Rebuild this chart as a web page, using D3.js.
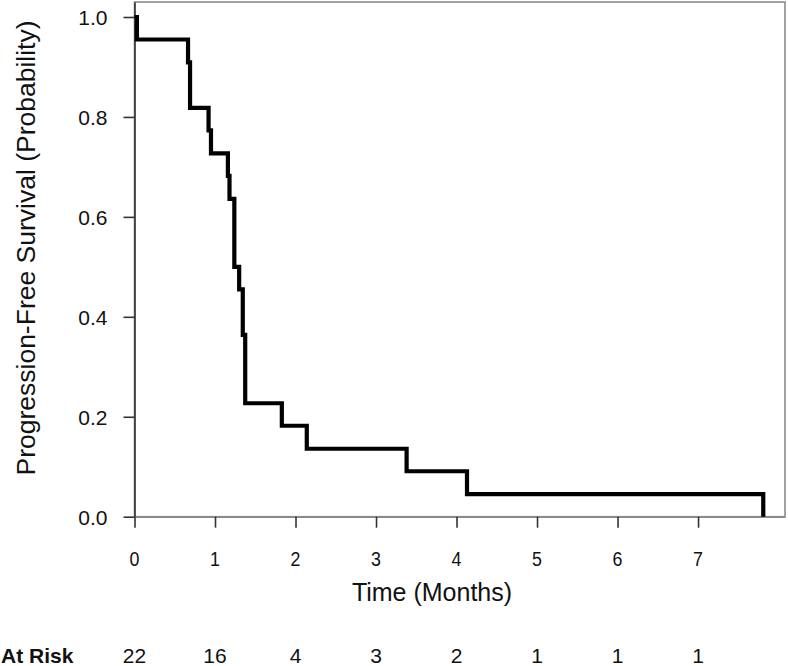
<!DOCTYPE html>
<html>
<head>
<meta charset="utf-8">
<script src="https://cdn.jsdelivr.net/npm/d3@7"></script>
<style>
  html, body { margin: 0; padding: 0; background: #fff; }
  svg { display: block; font-family: "Liberation Sans", Arial, sans-serif; }
</style>
</head>
<body>
<svg id="chart" width="788" height="666"></svg>
<script>
// Kaplan-Meier step data (event times in months, survival after each step)
const eventTimes = [0, 0.03, 0.665, 0.69, 0.92, 0.95, 1.16, 1.18, 1.24, 1.30, 1.345, 1.375, 1.83, 2.14, 3.38, 4.13, 7.81];
const survival   = [1.0, 0.955, 0.909, 0.818, 0.773, 0.727, 0.682, 0.636, 0.5, 0.455, 0.364, 0.227, 0.182, 0.136, 0.091, 0.045, 0.0];
const xTicks = [0, 1, 2, 3, 4, 5, 6, 7];
const yTicks = [0.0, 0.2, 0.4, 0.6, 0.8, 1.0];
const atRiskTimes = [0, 1, 2, 3, 4, 5, 6, 7];
const atRiskCounts = [22, 16, 4, 3, 2, 1, 1, 1];

const svg = d3.select("#chart");
const x = d3.scaleLinear().domain([0, 8.08]).range([134.5, 785]);
const y = d3.scaleLinear().domain([0, 1.03]).range([516.7, 2]);

// frame (gray)
svg.append("rect")
  .attr("x", x(0)).attr("y", y(1.03))
  .attr("width", x(8.08) - x(0)).attr("height", y(0) - y(1.03))
  .attr("fill", "none").attr("stroke", "#8a8a8a").attr("stroke-width", 1.6);

// y axis
const yAxis = d3.axisLeft(y).tickValues(yTicks).tickSize(11).tickSizeOuter(0).tickFormat(d3.format(".1f"));
const gy = svg.append("g").attr("transform", `translate(${x(0)},0)`).call(yAxis);
gy.attr("font-size", null).attr("font-family", null);
gy.select(".domain").attr("stroke", "#333").attr("stroke-width", 1.6);
gy.selectAll(".tick line").attr("stroke", "#333").attr("stroke-width", 1.6);
gy.selectAll(".tick text")
  .attr("x", -27).attr("dy", "0.36em")
  .style("font-size", "21px").attr("fill", "#111");

// x axis (ticks only; labels drawn below)
const xAxis = d3.axisBottom(x).tickValues(xTicks).tickSize(11).tickSizeOuter(0).tickFormat("");
const gx = svg.append("g").attr("transform", `translate(0,${y(0)})`).call(xAxis);
gx.select(".domain").attr("stroke", "#8a8a8a").attr("stroke-width", 1.6);
gx.selectAll(".tick line").attr("stroke", "#333").attr("stroke-width", 1.6);

svg.append("g").selectAll("text").data(xTicks).join("text")
  .attr("transform", d => `translate(${x(d)},566) scale(0.85,1)`)
  .attr("text-anchor", "middle")
  .style("font-size", "21px").attr("fill", "#111")
  .text(d => d);

// KM curve
const pts = eventTimes.map((t, i) => [t, survival[i]]);
const line = d3.line().x(d => x(d[0])).y(d => y(d[1])).curve(d3.curveStepAfter);
svg.append("path")
  .attr("d", line(pts))
  .attr("fill", "none").attr("stroke", "#000").attr("stroke-width", 4.2)
  .attr("stroke-linejoin", "miter").attr("stroke-linecap", "butt");

// axis titles
svg.append("text")
  .attr("x", 432).attr("y", 601)
  .attr("text-anchor", "middle").style("font-size", "25px").attr("fill", "#111")
  .text("Time (Months)");
svg.append("text")
  .attr("transform", "translate(35,248) rotate(-90)")
  .attr("text-anchor", "middle").style("font-size", "26.5px").attr("fill", "#111")
  .text("Progression-Free Survival (Probability)");

// at-risk row
svg.append("text")
  .attr("x", 1).attr("y", 663)
  .style("font-size", "21px").attr("font-weight", "bold").attr("fill", "#111")
  .text("At Risk");
svg.append("g").selectAll("text").data(atRiskCounts).join("text")
  .attr("x", (d, i) => x(atRiskTimes[i])).attr("y", 663)
  .attr("text-anchor", "middle").style("font-size", "21px").attr("fill", "#111")
  .text(d => d);
</script>
</body>
</html>
